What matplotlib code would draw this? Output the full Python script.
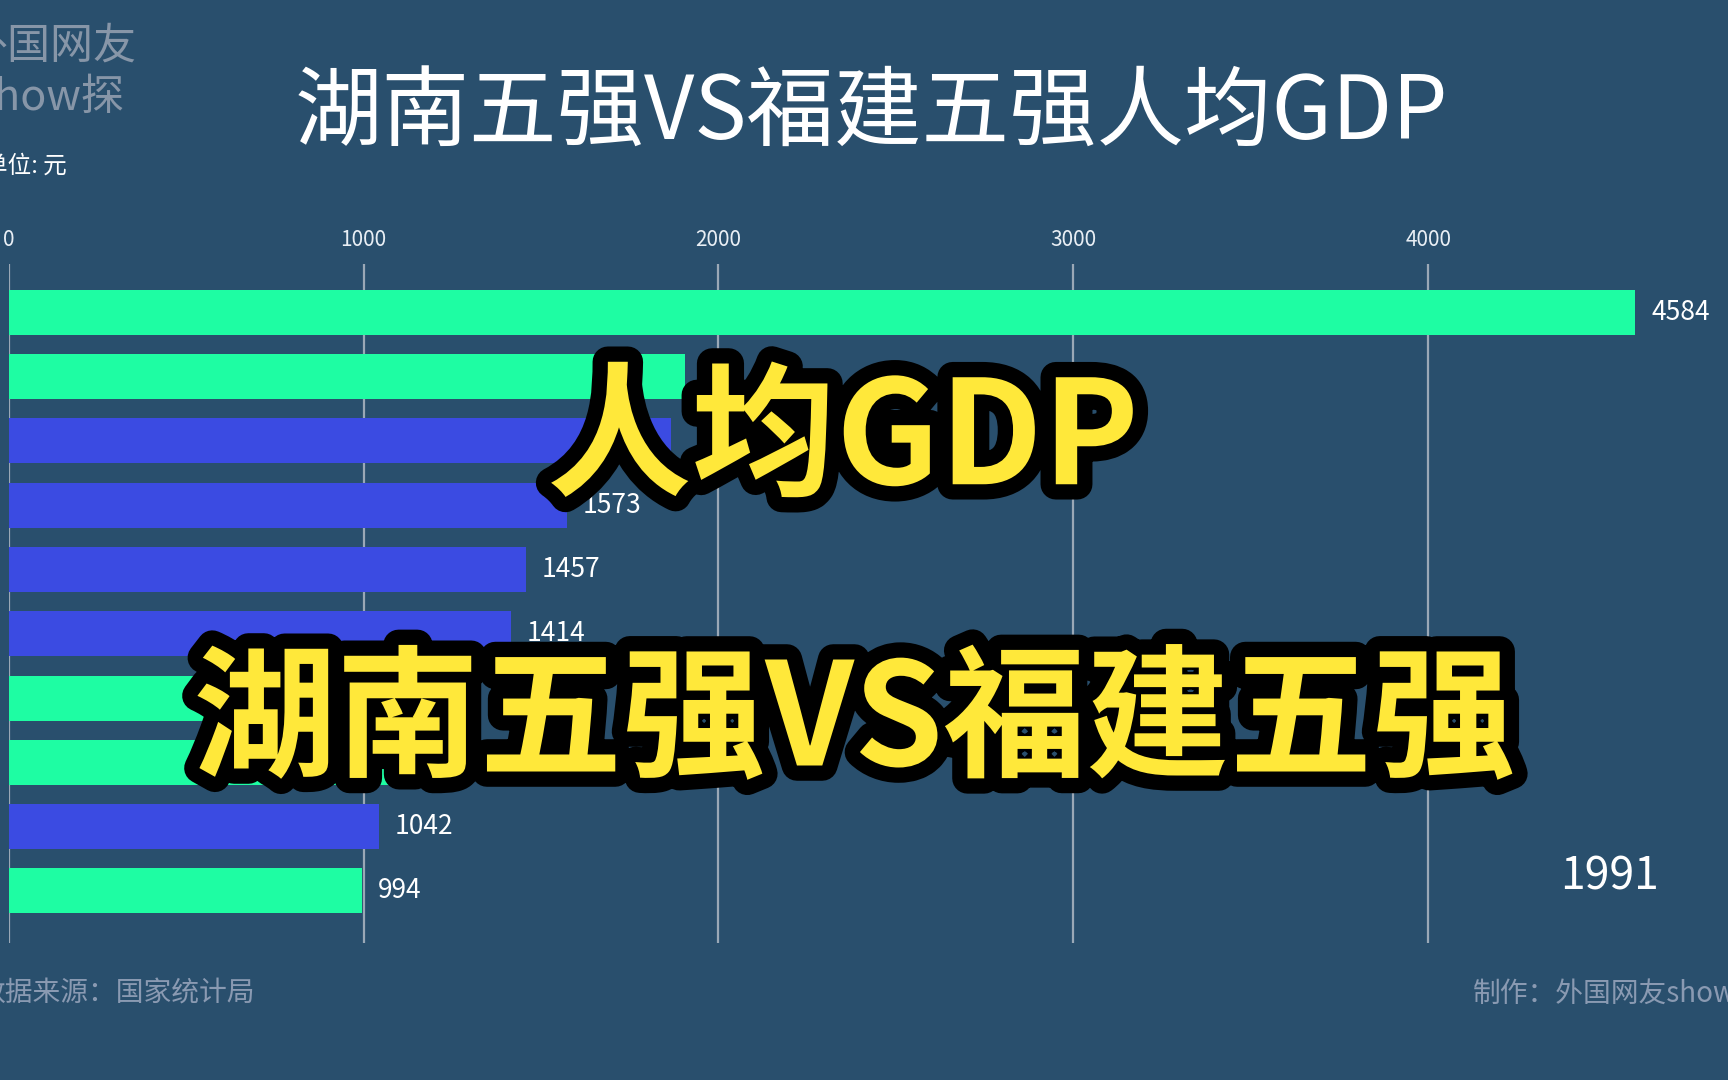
import numpy as np
import matplotlib.pyplot as plt
import matplotlib.patheffects as pe

plt.rcParams['font.family'] = ['Noto Sans CJK SC', 'DejaVu Sans']

# 1991 per-capita GDP (yuan), top to bottom
values = [4584, 1905, 1867, 1573, 1457, 1414, 1150, 1087, 1042, 994]
group = ['fj', 'fj', 'hn', 'hn', 'hn', 'hn', 'fj', 'fj', 'hn', 'fj']
shown = [True, False, False, True, True, True, False, False, True, True]
ticks = [0, 1000, 2000, 3000, 4000]
year = '1991'

bg = '#294f6d'
colors = {'fj': '#1efda3', 'hn': '#3b4be2'}
W, H = 1728, 1080

fig = plt.figure(figsize=(W/100, H/100), dpi=100, facecolor=bg)
ax = fig.add_axes([8.8/W, 137/H, (1712-8.8)/W, (816-137)/H])
ax.set_facecolor(bg)

y = np.arange(len(values))
ax.barh(y, values, height=0.70, color=[colors[g] for g in group], zorder=3)
for yi, v, s in zip(y, values, shown):
    if s:
        ax.text(v + 45, yi, str(v), color='white', fontsize=19, va='center', ha='left', zorder=4)

ax.set_xlim(0, 4800)
ax.set_ylim(9.81, -0.75)
ax.set_xticks(ticks)
ax.xaxis.tick_top()
ax.tick_params(axis='x', length=0, pad=9, labelcolor='#e8eef4', labelsize=15)
ax.set_yticks([])
ax.grid(axis='x', color='#9aa8b6', linewidth=1.6, zorder=1)
for s in ax.spines.values():
    s.set_visible(False)

def ftext(x, y, s, **kw):
    return fig.text(x/W, 1-y/H, s, **kw)

ftext(871, 114, '湖南五强VS福建五强人均GDP', color='white', fontsize=63, ha='center', va='center')
ftext(50, 73, '外国网友\nshow探', color='#8796a8', fontsize=31, ha='center', va='center',
      multialignment='center', linespacing=1.2)
ftext(-16, 166, '单位: 元', color='white', fontsize=17, ha='left', va='center')
ftext(-22, 994, '数据来源：国家统计局', color='#8a9ab2', fontsize=20, ha='left', va='center')
ftext(1473, 994, '制作：外国网友show探', color='#8a9ab2', fontsize=20, ha='left', va='center')
ftext(1610, 876, year, color='white', fontsize=32, ha='center', va='center')

stroke = [pe.withStroke(linewidth=22, foreground='black')]
ftext(843, 442, '人均GDP', color='#ffe83a', fontsize=104, fontweight='black',
      ha='center', va='center', path_effects=stroke)
ftext(854, 724, '湖南五强VS福建五强', color='#ffe83a', fontsize=103, fontweight='black',
      ha='center', va='center', path_effects=stroke)

plt.savefig('out.png', dpi=100, facecolor=bg)
